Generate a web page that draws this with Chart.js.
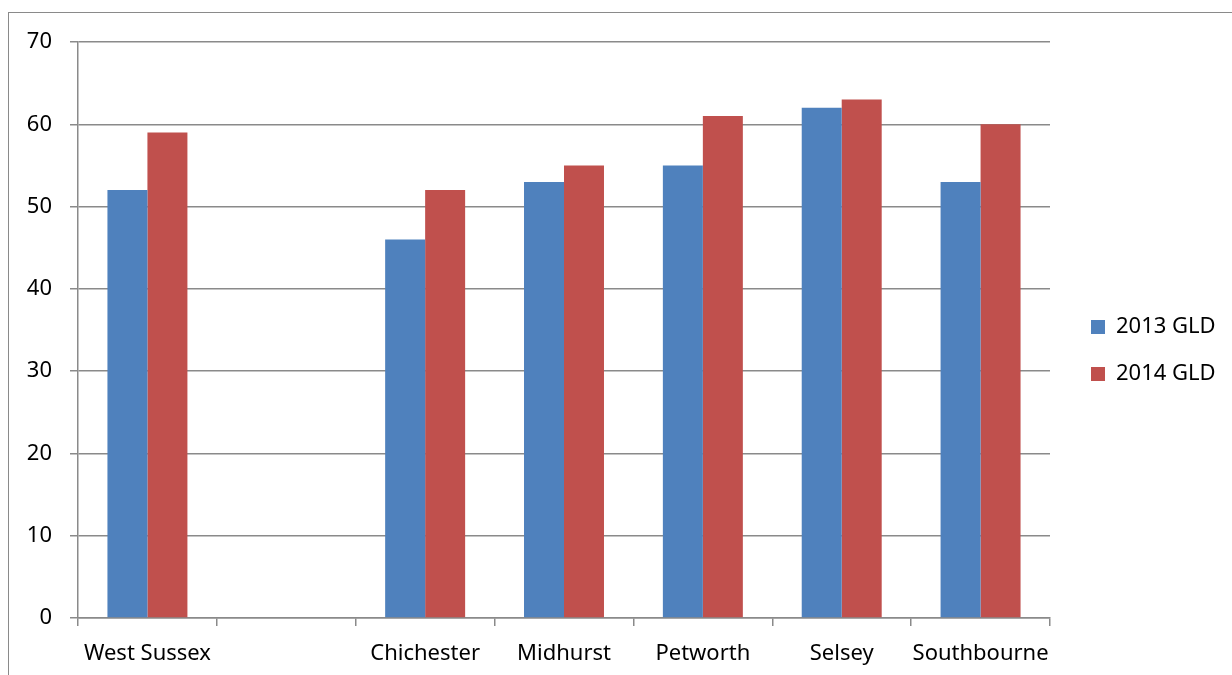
<!DOCTYPE html>
<html>
<head>
<meta charset="utf-8">
<script src="https://cdn.jsdelivr.net/npm/chart.js@4/dist/chart.umd.min.js"></script>
<style>
  html, body { margin: 0; padding: 0; background: #fff; overflow: hidden; }
  #wrap { position: relative; width: 1232px; height: 675px; }
  #frame { position: absolute; left: 8px; top: 12px; width: 1300px; height: 700px;
           border: 1.5px solid #8a8a8a; box-sizing: border-box; }
  canvas { position: absolute; left: 0; top: 0; }
</style>
</head>
<body>
<div id="wrap">
  <div id="frame"></div>
  <canvas id="c" width="1232" height="675"></canvas>
</div>
<script>
// Good Level of Development (GLD) by area, 2013 vs 2014
const categories = ['West Sussex', '', 'Chichester', 'Midhurst', 'Petworth', 'Selsey', 'Southbourne'];
const gld2013 = [52, null, 46, 53, 55, 62, 53];
const gld2014 = [59, null, 52, 55, 61, 63, 60];
const seriesNames = ['2013 GLD', '2014 GLD'];
const yTickValues = [0, 10, 20, 30, 40, 50, 60, 70];

const GRID = '#8a8a8a';

// Keeps the legend in a fixed-width column on the right and nudges its items into place
const legendPlacement = {
  id: 'legendPlacement',
  beforeLayout(chart) {
    const lg = chart.legend;
    if (lg && !lg.__fixedWidth) {
      const fit = lg.fit;
      lg.fit = function () { fit.call(this); this.width = 182; };
      lg.__fixedWidth = true;
    }
  },
  afterLayout(chart) {
    const lg = chart.legend;
    if (!lg) return;
    const dx = 16, dy = -8;
    lg.left += dx; lg.right += dx;
    lg.top += dy; lg.bottom += dy;
  }
};

Chart.defaults.font.family = "'Noto Sans', sans-serif";
Chart.defaults.font.size = 22;
Chart.defaults.color = '#000';

new Chart(document.getElementById('c'), {
  type: 'bar',
  data: {
    labels: categories,
    datasets: [
      { label: seriesNames[0], data: gld2013, backgroundColor: '#4F81BD', borderWidth: 0,
        categoryPercentage: 0.576, barPercentage: 1.0 },
      { label: seriesNames[1], data: gld2014, backgroundColor: '#C0504D', borderWidth: 0,
        categoryPercentage: 0.576, barPercentage: 1.0 }
    ]
  },
  options: {
    responsive: false,
    animation: false,
    devicePixelRatio: 1,
    layout: { padding: { left: 0, top: 42, right: 0, bottom: 0 } },
    plugins: {
      tooltip: { enabled: false },
      legend: {
        position: 'right',
        labels: { boxWidth: 14, boxHeight: 14, padding: 25, color: '#000',
                  font: { size: 22 } }
      }
    },
    scales: {
      x: {
        offset: true,
        grid: { offset: true, drawOnChartArea: false, drawTicks: true, tickLength: 8,
                color: GRID, lineWidth: 1.5 },
        border: { color: GRID, width: 1.5 },
        ticks: { padding: 15, maxRotation: 0, autoSkip: false, color: '#000' },
        afterFit(scale) { scale.height = 57; }
      },
      y: {
        min: 0,
        max: 70,
        afterBuildTicks(scale) { scale.ticks = yTickValues.map(v => ({ value: v })); },
        grid: { color: GRID, tickLength: 8, lineWidth: 1.5 },
        border: { color: GRID, width: 1.5 },
        ticks: { padding: 18, color: '#000' },
        afterFit(scale) { scale.width = 78; }
      }
    }
  },
  plugins: [legendPlacement]
});
</script>
</body>
</html>
